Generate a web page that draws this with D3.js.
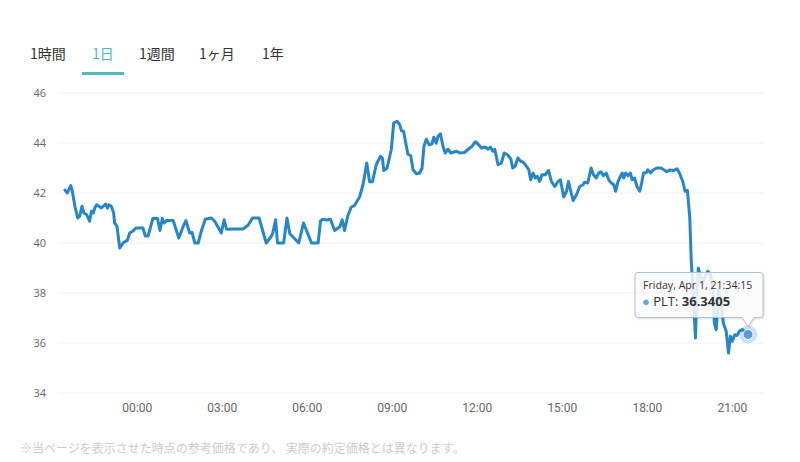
<!DOCTYPE html>
<html><head><meta charset="utf-8">
<script src="https://cdn.jsdelivr.net/npm/d3@7"></script>
<style>
html,body{margin:0;padding:0;background:#fff;}
svg{display:block;font-family:"Noto Sans CJK JP","Open Sans",sans-serif;}
</style></head><body>
<svg id="c" width="800" height="462"></svg>
<script>
// minutes relative to 00:00 Apr 1 (negative = Mar 31)
const minutes = [-152,-147,-140,-137,-131,-125,-121,-116,-112,-106,-100,-96,-92,-89,-85,-80,-75,-66,-62,-59,-54,-49,-47,-42,-36,-29,-23,-20,-15,-8,-2,13,18,24,34,44,49,54,58,63,77,89,98,104,112,117,123,130,137,145,158,165,179,185,190,207,
225,236,245,259,274,285,288,294,298,311,318,324,338,343,353,370,384,389,394,403,410,419,430,435,440,447,454,461,472,479,487,493,499,507,516,520,523,530,539,544,551,557,560,565,574,
580,585,592,599,604,608,613,619,625,629,634,638,643,648,653,659,665,677,684,694,705,710,717,722,730,738,744,749,754,758,765,772,778,785,792,796,801,807,813,818,823,830,834,839,844,848,853,858,865,872,878,885,892,897,904,910,914,920,924,931,938,945,
948,955,962,967,973,978,983,988,994,1000,1005,1010,1014,1019,1024,1028,1031,1035,1040,1045,1049,1054,1059,1065,1069,1073,1079,1082,1088,1094,1101,1110,1117,1122,1128,1137,1144,1149,1156,1161,1166,1171,1174,1179,1183,1186,1189,1193,1198,1204,1209,1214,1220,1223,1227,1232,1237,1242,1248,1253,1257,1261,1266,1271,1276,1282,1294.25];
const prices = [42.12,42.0,42.3,42.12,41.47,41.0,41.07,41.47,41.2,41.13,40.87,41.27,41.2,41.4,41.53,41.47,41.4,41.56,41.4,41.53,41.47,41.2,40.8,40.67,39.8,40.0,40.08,40.1,40.4,40.48,40.6,40.6,40.28,40.28,40.98,40.98,40.5,40.98,40.8,40.9,40.9,40.2,40.65,40.9,40.4,40.42,40.0,40.0,40.5,40.95,41.0,40.87,40.4,40.93,40.55,40.56,
40.56,40.72,41.0,41.0,40.0,40.27,40.4,40.93,40.0,40.0,41.0,40.37,40.1,40.0,40.8,40.0,40.0,40.88,40.95,40.92,40.95,40.5,40.65,40.93,40.5,41.1,41.43,41.5,41.85,42.33,43.2,42.45,42.45,43.13,43.47,43.4,42.9,43.0,43.75,44.8,44.87,44.73,44.5,44.46,43.55,
43.5,42.93,42.77,42.8,42.99,43.86,44.15,43.93,43.97,44.23,43.99,44.27,44.37,43.9,43.6,43.75,43.6,43.67,43.6,43.62,43.8,43.87,44.05,43.97,43.8,43.84,43.75,43.84,43.67,43.75,43.13,43.2,43.6,43.53,43.36,43.0,43.07,43.4,43.27,43.23,43.13,42.93,42.53,42.8,42.6,42.67,42.46,42.73,42.73,42.9,42.46,42.26,42.46,42.53,41.84,42.07,42.46,41.99,41.7,41.93,42.26,42.33,
42.43,42.4,43.0,42.73,42.6,42.8,42.85,42.69,42.8,42.5,42.4,42.33,42.07,42.46,42.66,42.8,42.6,42.8,42.69,42.8,42.53,42.6,42.27,42.07,42.4,42.8,42.82,42.93,42.8,42.93,43.0,43.0,42.92,42.85,42.92,42.9,42.97,42.8,42.47,42.07,42.1,41.0,39.33,37.73,36.2,38.0,39.0,38.73,38.4,38.67,38.87,38.77,38.13,36.8,36.53,38.13,37.67,36.8,36.47,35.6,36.27,36.07,36.33,36.3,36.47,36.54,36.3405];
const yTicks = [34,36,38,40,42,44,46];
const xTickHours = [0,3,6,9,12,15,18,21];
const tabs = ["1時間","1日","1週間","1ヶ月","1年"];
const activeTab = "1日";
const seriesName = "PLT";
const footnote = "※当ページを表示させた時点の参考価格であり、 実際の約定価格とは異なります。";

const base = new Date(2022,3,1,0,0,0);
const toDate = m => new Date(base.getTime() + m*60000);
const data = minutes.map((m,i)=>({t:toDate(m), v:prices[i]}));

const svg = d3.select("#c");

// tabs
const tabX = [30,92,139,199,262];
tabs.forEach((t,i)=>{
  svg.append("text").attr("x",tabX[i]).attr("y",59)
    .attr("font-size",14).attr("fill", t===activeTab?"#52b8c2":"#333")
    .text(t);
});
svg.append("rect").attr("x",82).attr("y",72).attr("width",42).attr("height",3).attr("fill","#52b8c2");

const x = d3.scaleTime().domain([data[0].t, data[data.length-1].t]).range([65,748]);
const y = d3.scaleLinear().domain([34,46]).range([393,93]);

// grid
svg.append("g").selectAll("line").data(yTicks).join("line")
  .attr("x1",60).attr("x2",765).attr("y1",d=>y(d)).attr("y2",d=>y(d))
  .attr("stroke","#f0f0f0").attr("stroke-width",1);

// y axis
const yAxis = d3.axisLeft(y).tickValues(yTicks).tickSize(0).tickPadding(0);
const yg = svg.append("g").attr("transform","translate(46,0)").call(yAxis);
yg.select(".domain").remove();
yg.selectAll("text").attr("font-size",11).attr("fill","#666").attr("font-family","'Open Sans',sans-serif").attr("dy","0.35em");

// x axis
const xAxis = d3.axisBottom(x).tickValues(xTickHours.map(h=>toDate(h*60))).tickFormat(d3.timeFormat("%H:%M")).tickSize(0).tickPadding(0);
const xg = svg.append("g").attr("transform","translate(0,403)").call(xAxis);
xg.select(".domain").remove();
xg.selectAll("text").attr("font-size",12).attr("fill","#666").attr("font-family","Roboto,sans-serif").attr("dy","0.71em");

// line
const line = d3.line().x(d=>x(d.t)).y(d=>y(d.v));
svg.append("path").datum(data).attr("d",line).attr("fill","none")
  .attr("stroke","#2786c8").attr("stroke-width",3).attr("stroke-linejoin","round").attr("stroke-linecap","round");

// hover marker
const last = data[data.length-1];
const px = x(last.t), py = y(last.v);
svg.append("circle").attr("cx",px).attr("cy",py).attr("r",9).attr("fill","#2786c8").attr("opacity",0.25);
svg.append("circle").attr("cx",px).attr("cy",py).attr("r",5).attr("fill","#5c9ad6").attr("stroke","#fff").attr("stroke-width",1);

// tooltip
const tx = px-113, ty = py-62, tw = 128, th = 45;
const tip = svg.append("g");
tip.append("path")
  .attr("d",`M${tx+3},${ty} H${tx+tw-3} Q${tx+tw},${ty} ${tx+tw},${ty+3} V${th+ty-3} Q${tx+tw},${ty+th} ${tx+tw-3},${ty+th} H${px+6} L${px},${py-8} L${px-6},${ty+th} H${tx+3} Q${tx},${ty+th} ${tx},${ty+th-3} V${ty+3} Q${tx},${ty} ${tx+3},${ty} Z`)
  .attr("fill","rgba(255,255,255,0.85)").attr("stroke","#a7c3dc").attr("stroke-width",1)
  .style("filter","drop-shadow(1px 1px 1px rgba(0,0,0,0.15))");
tip.append("text").attr("x",tx+8).attr("y",ty+17).attr("font-size",10.6).attr("fill","#333")
  .attr("font-family","'Open Sans',sans-serif")
  .text(d3.timeFormat("%A, %b %-d, %H:%M:%S")(last.t));
const t2 = tip.append("text").attr("x",tx+7).attr("y",ty+34).attr("font-family","'Open Sans',sans-serif").attr("font-size",13).attr("fill","#333");
t2.append("tspan").attr("fill","#6aa3db").attr("font-size",13).text("● ");
t2.append("tspan").text(seriesName+": ");
t2.append("tspan").attr("font-weight","bold").text(last.v.toFixed(4));

// footnote
svg.append("text").attr("x",20).attr("y",453).attr("font-size",12).attr("fill","#cccccc").text(footnote);
</script>
</body></html>
